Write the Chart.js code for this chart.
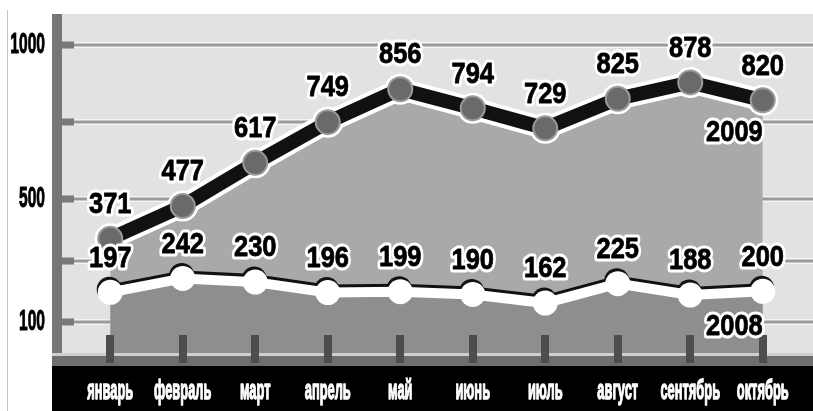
<!DOCTYPE html>
<html>
<head>
<meta charset="utf-8">
<script src="https://cdn.jsdelivr.net/npm/chart.js@4.4.1/dist/chart.umd.min.js"></script>
<style>
  html, body { margin: 0; padding: 0; background: #fff; }
  #wrap { width: 813px; height: 411px; position: relative; }
</style>
</head>
<body>
<div id="wrap"><canvas id="chart"></canvas></div>
<script>
const months = ['январь', 'февраль', 'март', 'апрель', 'май', 'июнь', 'июль', 'август', 'сентябрь', 'октябрь'];
const values2009 = [371, 477, 617, 749, 856, 794, 729, 825, 878, 820];
const values2008 = [197, 242, 230, 196, 199, 190, 162, 225, 188, 200];
const gridValues = [100, 300, 500, 750, 1000];
const yLabels = [100, 500, 1000];
const seriesNames = ['2008', '2009'];

const FONT = "'Liberation Sans', Arial, sans-serif";

function linePath(ctx, pts, dy) {
    ctx.beginPath();
    pts.forEach((p, i) => i ? ctx.lineTo(p.x, p.y + dy) : ctx.moveTo(p.x, p.y + dy));
}

// condensed text: the picture uses a narrow heavy face, so squeeze a bold one
function squeezeText(ctx, text, x, y, opt) {
    ctx.save();
    ctx.translate(x, y);
    ctx.scale(opt.sx, 1);
    ctx.font = 'bold ' + opt.size + 'px ' + FONT;
    ctx.textAlign = opt.align;
    ctx.textBaseline = opt.baseline || 'middle';
    ctx.lineJoin = 'round';
    if (opt.halo) {
        ctx.lineWidth = opt.halo;
        ctx.strokeStyle = '#fff';
        ctx.strokeText(text, 0, 0);
    }
    ctx.fillStyle = opt.color;
    ctx.fillText(text, 0, 0);
    if (opt.thick) {
        ctx.lineWidth = opt.thick;
        ctx.strokeStyle = opt.color;
        ctx.strokeText(text, 0, 0);
    }
    ctx.restore();
}

const decor = {
    id: 'decor',
    beforeDraw(chart) {
        const { ctx, chartArea: a, scales: { x, y } } = chart;
        const W = chart.width, H = chart.height;
        ctx.save();
        ctx.fillStyle = '#fff';
        ctx.fillRect(0, 0, W, H);
        ctx.fillStyle = '#c4c4c4';
        ctx.fillRect(7, 10, 1, H - 10);
        // plot background
        ctx.fillStyle = '#e2e2e2';
        ctx.fillRect(57, 14, W - 57, a.bottom - 14);
        // grid lines and stubs
        y.ticks.forEach(t => {
            const py = Math.round(y.getPixelForValue(t.value));
            ctx.fillStyle = '#f4f4f4';
            ctx.fillRect(57, py - 3, W - 57, 6);
            ctx.fillStyle = '#9a9a9a';
            ctx.fillRect(57, py - 1.5, W - 57, 3);
            ctx.fillStyle = '#7a7a7a';
            ctx.fillRect(55, py - 3.5, 19, 7);
            if (yLabels.includes(t.value)) {
                squeezeText(ctx, String(t.value), 45, py, { size: 30, sx: 0.52, align: 'right', color: '#000', thick: 1 });
            }
        });
        // axis bar
        ctx.fillStyle = '#767676';
        ctx.fillRect(52, 14, 10, a.bottom - 10);
        // bottom strip and black band
        ctx.fillStyle = '#cfcfcf';
        ctx.fillRect(52, a.bottom, W - 52, 3);
        ctx.fillStyle = '#6e6e6e';
        ctx.fillRect(52, a.bottom + 3, W - 52, 10);
        ctx.fillStyle = '#000';
        ctx.fillRect(52, a.bottom + 13, W - 52, H - a.bottom - 13);
        // month labels
        x.ticks.forEach(t => {
            squeezeText(ctx, x.getLabelForValue(t.value), x.getPixelForValue(t.value), 399,
                { size: 28, sx: 0.46, align: 'center', baseline: 'alphabetic', color: '#fff', thick: 1.4 });
        });
        ctx.restore();
    },
    beforeDatasetDraw(chart, args) {
        const ctx = chart.ctx;
        const pts = args.meta.data;
        ctx.save();
        ctx.lineJoin = 'round';
        if (args.index === 1) {
            // white outline of the 2009 line
            linePath(ctx, pts, 0);
            ctx.strokeStyle = '#fff';
            ctx.lineWidth = 22;
            ctx.stroke();
            ctx.fillStyle = '#fff';
            pts.forEach(p => { ctx.beginPath(); ctx.arc(p.x, p.y, 15.5, 0, Math.PI * 2); ctx.fill(); });
        } else {
            // dark upper edge of the 2008 line
            linePath(ctx, pts, -3);
            ctx.strokeStyle = '#111';
            ctx.lineWidth = 10;
            ctx.stroke();
            ctx.fillStyle = '#111';
            pts.forEach(p => { ctx.beginPath(); ctx.arc(p.x - 1, p.y - 3, 12.5, 0, Math.PI * 2); ctx.fill(); });
        }
        ctx.restore();
    },
    afterDatasetsDraw(chart) {
        const { ctx, chartArea: a, scales: { x } } = chart;
        ctx.save();
        x.ticks.forEach(t => {
            const px = Math.round(x.getPixelForValue(t.value));
            ctx.fillStyle = '#4d4d4d';
            ctx.fillRect(px - 4, a.bottom - 18, 8, 28);
        });
        ctx.restore();
        chart.data.datasets.forEach((ds, di) => {
            const pts = chart.getDatasetMeta(di).data;
            pts.forEach((p, i) => squeezeText(ctx, String(ds.data[i]), p.x, p.y - 34,
                { size: 30, sx: 0.85, align: 'center', color: '#000', halo: 7, thick: 0.8 }));
            const last = pts[pts.length - 1];
            squeezeText(ctx, seriesNames[di], last.x, last.y + (di === 1 ? 32 : 35),
                { size: 30, sx: 0.85, align: 'right', color: '#000', halo: 7, thick: 0.8 });
        });
    }
};

new Chart(
    document.getElementById('chart'),
    {
        type: 'line',
        data: {
            labels: months,
            datasets: [
                {
                    label: seriesNames[0],
                    data: values2008,
                    borderColor: '#fff',
                    borderWidth: 10,
                    backgroundColor: '#8e8e8e',
                    fill: 'start',
                    tension: 0,
                    pointRadius: 12.5,
                    pointBackgroundColor: '#fff',
                    pointBorderWidth: 0
                },
                {
                    label: seriesNames[1],
                    data: values2009,
                    borderColor: '#111',
                    borderWidth: 14,
                    backgroundColor: '#a9a9a9',
                    fill: 'start',
                    tension: 0,
                    pointRadius: 12,
                    pointBackgroundColor: '#6a6a6a',
                    pointBorderColor: '#9a9a9a',
                    pointBorderWidth: 2
                }
            ]
        },
        options: {
            responsive: true,
            maintainAspectRatio: false,
            animation: false,
            events: [],
            layout: { padding: { top: 14, right: 12, left: 0, bottom: 0 } },
            plugins: { legend: { display: false }, tooltip: { enabled: false } },
            scales: {
                x: {
                    offset: true,
                    afterFit: s => { s.height = 58; },
                    grid: { display: false, drawTicks: false },
                    border: { display: false },
                    ticks: { display: false, autoSkip: false }
                },
                y: {
                    min: 0,
                    max: 1100,
                    afterBuildTicks: s => { s.ticks = gridValues.map(v => ({ value: v })); },
                    afterFit: s => { s.width = 74; },
                    grid: { display: false, drawTicks: false },
                    border: { display: false },
                    ticks: { display: false }
                }
            }
        },
        plugins: [decor]
    }
);
</script>
</body>
</html>
